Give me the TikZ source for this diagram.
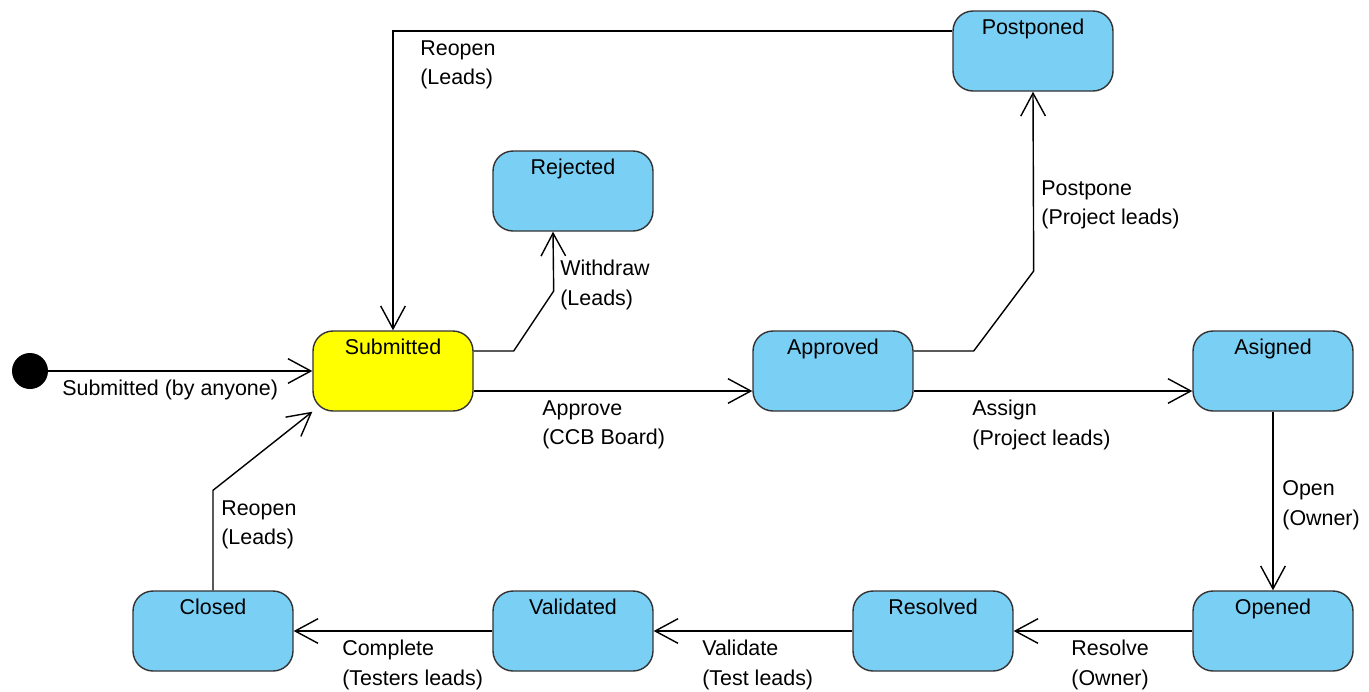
\documentclass[tikz,border=0pt]{standalone}
\usepackage{fontspec}
\setmainfont{Liberation Sans}
\usetikzlibrary{arrows.meta}

\definecolor{stateblue}{RGB}{122,207,245}
\definecolor{stateyellow}{RGB}{255,255,0}
\definecolor{edgegray}{RGB}{51,51,51}

\tikzset{
  state/.style={draw=edgegray, line width=0.8pt, fill=stateblue, rounded corners=0.4cm,
    minimum width=3.2cm, minimum height=1.6cm, inner sep=0pt},
  statename/.style={anchor=north, inner sep=0pt, yshift=-4.5pt, font=\fontsize{12.2}{14}\selectfont},
  trans/.style={line width=0.8pt, -{Straight Barb[length=13pt,width=14pt,line width=0.8pt]}},
  lbl/.style={anchor=north west, inner sep=0pt, align=left, font=\fontsize{12.2}{17}\selectfont}
}

\begin{document}
\begin{tikzpicture}[x=0.02cm, y=-0.02cm]
\useasboundingbox (0,0) rectangle (1369,691);

\node[circle, fill=black, minimum size=0.72cm, inner sep=0pt] (init) at (30,371) {};

\node[state, fill=stateyellow, label={[statename]north:Submitted}] (sub) at (393,371) {};
\node[state, label={[statename]north:Rejected}] (rej) at (573,191) {};
\node[state, label={[statename]north:Postponed}] (pos) at (1033,51) {};
\node[state, label={[statename]north:Approved}] (app) at (833,371) {};
\node[state, label={[statename]north:Asigned}] (asg) at (1273,371) {};
\node[state, label={[statename]north:Opened}] (opn) at (1273,631) {};
\node[state, label={[statename]north:Resolved}] (res) at (933,631) {};
\node[state, label={[statename]north:Validated}] (val) at (573,631) {};
\node[state, label={[statename]north:Closed}] (clo) at (213,631) {};

\draw[trans] (init.east) -- (sub.west);
\draw[trans] ([yshift=0.4cm]sub.east) -- ++(40,0) -- ++(40,-60) -- ([xshift=-0.4cm]rej.south);
\draw[trans] ([yshift=-0.4cm]sub.east) -- ([yshift=-0.4cm]app.west);
\draw[trans] ([yshift=0.4cm]pos.west) -| (sub.north);
\draw[trans] ([yshift=0.4cm]app.east) -- ++(60,0) -- ++(60,-80) -- (pos.south);
\draw[trans] ([yshift=-0.4cm]app.east) -- ([yshift=-0.4cm]asg.west);
\draw[trans] (asg.south) -- (opn.north);
\draw[trans] (opn.west) -- (res.east);
\draw[trans] (res.west) -- (val.east);
\draw[trans] (val.west) -- (clo.east);
\draw[trans] (clo.north) -- ++(0,-100) -- (sub.south west);

\node[lbl] (lsubmit) at (62,380) {Submitted (by anyone)};
\node[lbl] (lwithdraw) at (560,260) {Withdraw\\(Leads)};
\node[lbl] (lapprove) at (542,400) {Approve\\(CCB Board)};
\node[lbl] (lreopentop) at (420,40) {Reopen\\(Leads)};
\node[lbl] (lpostpone) at (1041,180) {Postpone\\(Project leads)};
\node[lbl] (lassign) at (972,400) {Assign\\(Project leads)};
\node[lbl] (lopen) at (1282,480) {Open\\(Owner)};
\node[lbl] (lresolve) at (1071,640) {Resolve\\(Owner)};
\node[lbl] (lvalidate) at (702,640) {Validate\\(Test leads)};
\node[lbl] (lcomplete) at (342,640) {Complete\\(Testers leads)};
\node[lbl] (lreopenbot) at (221,500) {Reopen\\(Leads)};
\end{tikzpicture}
\end{document}
